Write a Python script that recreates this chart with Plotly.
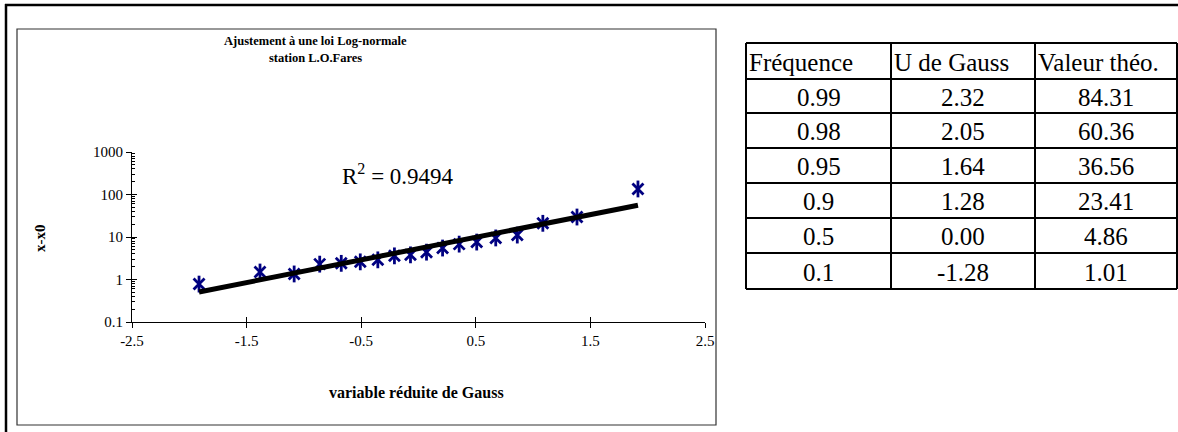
import plotly.graph_objects as go

# ---- data ----
gauss_u = [-1.915, -1.383, -1.085, -0.862, -0.674, -0.508, -0.355, -0.210, -0.070,
           0.070, 0.210, 0.355, 0.508, 0.674, 0.862, 1.085, 1.383, 1.915]
x_minus_x0 = [0.78, 1.5, 1.35, 2.3, 2.4, 2.6, 2.9, 3.6, 3.8,
              4.4, 5.5, 6.8, 7.6, 9.5, 11.1, 21, 29.5, 135]
fit_u = [-1.915, 1.915]
fit_y = [0.51, 56]
r2_text = "R<sup>2</sup> = 0.9494"

x_ticks = [-2.5, -1.5, -0.5, 0.5, 1.5, 2.5]
y_ticks = [0.1, 1, 10, 100, 1000]
y_ticklabels = ["0.1", "1", "10", "100", "1000"]

tbl_header = ["Fréquence", "U de Gauss", "Valeur théo."]
tbl_freq = ["0.99", "0.98", "0.95", "0.9", "0.5", "0.1"]
tbl_u = ["2.32", "2.05", "1.64", "1.28", "0.00", "-1.28"]
tbl_val = ["84.31", "60.36", "36.56", "23.41", "4.86", "1.01"]

# ---- layout geometry (pixels) ----
W, H = 1178, 432
L, R, T, B = 132, 705, 152, 322
TBL_COLS = [746, 891, 1035, 1177]
TBL_ROWS = [43, 79, 113, 148, 183, 218, 253, 289]
FONT = "Liberation Serif"
NAVY = "#000080"


def fx(xp):  # pixel -> paper (paper = plot area)
    return (xp - L) / (R - L)


def fy(yp):
    return (B - yp) / (B - T)


fig = go.Figure()

# markers (6-armed star = x + vertical bar)
fig.add_trace(go.Scatter(x=gauss_u, y=x_minus_x0, mode="markers",
                         marker=dict(symbol="x-thin-open", size=11, color=NAVY,
                                     line=dict(color=NAVY, width=2.8)),
                         showlegend=False, hoverinfo="skip"))
fig.add_trace(go.Scatter(x=gauss_u, y=x_minus_x0, mode="markers",
                         marker=dict(symbol="line-ns-open", size=12, color=NAVY,
                                     line=dict(color=NAVY, width=2.8)),
                         showlegend=False, hoverinfo="skip"))
# trendline on top
fig.add_trace(go.Scatter(x=fit_u, y=fit_y, mode="lines",
                         line=dict(color="black", width=5),
                         showlegend=False, hoverinfo="skip"))
# dummy trace for overlay axes (crossing ticks)
fig.add_trace(go.Scatter(x=[None], y=[None], xaxis="x2", yaxis="y2",
                         showlegend=False, hoverinfo="skip"))

tickfont = dict(family=FONT, size=15, color="black")
fig.update_layout(
    width=W, height=H,
    margin=dict(l=L, r=W - R, t=T, b=H - B, pad=0),
    paper_bgcolor="white", plot_bgcolor="white",
    font=dict(family=FONT, color="black", size=15),
    xaxis=dict(range=[-2.5, 2.5], tickvals=x_ticks,
               ticktext=[str(v) for v in x_ticks],
               ticks="outside", ticklen=5, tickwidth=1, tickcolor="black",
               showline=True, linecolor="black", linewidth=1,
               showgrid=False, zeroline=False, anchor="y", tickfont=tickfont),
    yaxis=dict(type="log", range=[-1, 3], tickvals=y_ticks,
               ticktext=y_ticklabels,
               ticks="outside", ticklen=5, tickwidth=1, tickcolor="black",
               showline=True, linecolor="black", linewidth=1,
               showgrid=False, zeroline=False, anchor="x", tickfont=tickfont),
    xaxis2=dict(range=[-2.5, 2.5], tickvals=x_ticks, overlaying="x",
                anchor="y", ticks="inside", ticklen=5, tickwidth=1, tickcolor="black",
                showticklabels=False, showline=False, showgrid=False, zeroline=False),
    yaxis2=dict(type="log", range=[-1, 3], tickvals=y_ticks,
                overlaying="y", anchor="x", side="left", ticks="inside", ticklen=5,
                tickwidth=1, tickcolor="black", showticklabels=False, showline=False,
                showgrid=False, zeroline=False,
                minor=dict(ticks="inside", ticklen=3, tickwidth=1, tickcolor="black",
                           dtick="D1", showgrid=False)),
    showlegend=False,
)


def hline(x0, x1, y, width=1.5, color="black"):
    fig.add_shape(type="line", xref="paper", yref="paper",
                  x0=fx(x0), x1=fx(x1), y0=fy(y), y1=fy(y),
                  line=dict(color=color, width=width), layer="below")


def vline(x, y0, y1, width=1.5, color="black"):
    fig.add_shape(type="line", xref="paper", yref="paper",
                  x0=fx(x), x1=fx(x), y0=fy(y0), y1=fy(y1),
                  line=dict(color=color, width=width), layer="below")


# outer frame (only top and left edges visible in the picture)
hline(5, W, 5, width=2.5)
vline(6, 4, H, width=2.5)
# chart-area frame
fig.add_shape(type="rect", xref="paper", yref="paper",
              x0=fx(17), x1=fx(716), y0=fy(425), y1=fy(29),
              line=dict(color="#333333", width=1.2), layer="below")


# texts
def ann(x, y, text, size, bold=False, angle=0, xanchor="center"):
    fig.add_annotation(xref="paper", yref="paper", x=fx(x), y=fy(y),
                       xanchor=xanchor, yanchor="middle",
                       text=f"<b>{text}</b>" if bold else text, textangle=angle,
                       showarrow=False, align="center",
                       font=dict(family=FONT, size=size, color="black"))


ann(315, 41, "Ajustement à une loi Log-normale", 12.5, bold=True)
ann(315, 58, "station L.O.Fares", 12.5, bold=True)
ann(416, 392, "variable réduite de Gauss", 16, bold=True)
ann(40, 238, "x-x0", 15, bold=True, angle=-90)
ann(398, 174, r2_text, 23)

# table drawn from the data lists
for yr in TBL_ROWS:
    hline(TBL_COLS[0], TBL_COLS[-1], yr, width=2)
for xc in TBL_COLS:
    vline(xc, TBL_ROWS[0], TBL_ROWS[-1], width=2)

columns = [tbl_freq, tbl_u, tbl_val]
for ci, head in enumerate(tbl_header):
    ymid = (TBL_ROWS[0] + TBL_ROWS[1]) / 2
    ann(TBL_COLS[ci] + 1, ymid + 1, head, 25, xanchor="left")
    for ri, val in enumerate(columns[ci]):
        ymid = (TBL_ROWS[ri + 1] + TBL_ROWS[ri + 2]) / 2
        ann((TBL_COLS[ci] + TBL_COLS[ci + 1]) / 2, ymid + 1, val, 25)

fig.write_html("out.html")
